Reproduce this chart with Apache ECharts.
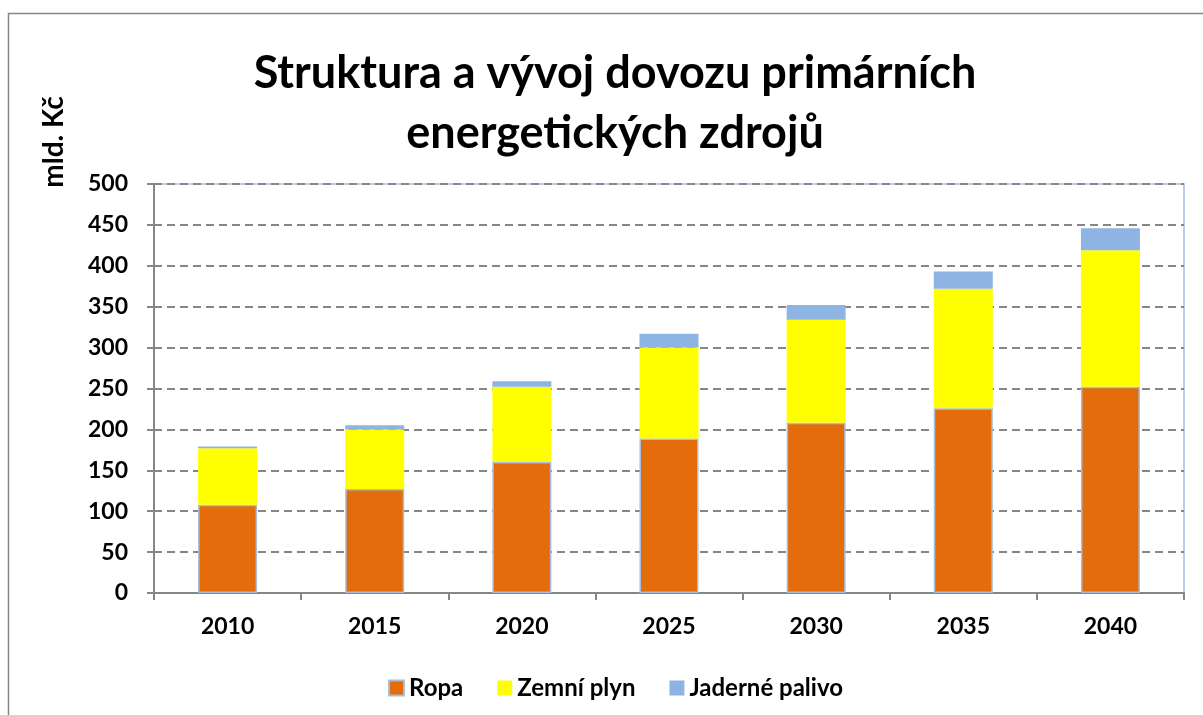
<!DOCTYPE html>
<html>
<head>
<meta charset="utf-8">
<script src="https://cdn.jsdelivr.net/npm/echarts@6/dist/echarts.min.js"></script>
<style>
html, body { margin: 0; padding: 0; background: #fff; }
#main { width: 1203px; height: 715px; }
</style>
</head>
<body>
<div id="main"></div>
<script>
var years = ['2010', '2015', '2020', '2025', '2030', '2035', '2040'];
var ropa = [108, 127, 160, 189, 208, 226, 252];
var plyn = [69, 73, 92, 111, 126, 146, 167];
var jaderne = [2, 5, 7, 17, 18, 21, 27];
var yTicks = [0, 50, 100, 150, 200, 250, 300, 350, 400, 450, 500];

var font = 'Lato, "Noto Sans", sans-serif';
var myChart = echarts.init(document.getElementById('main'));

var option = {
	backgroundColor: '#fff',
	animation: false,
	title: {
		text: 'Struktura a vývoj dovozu primárních\nenergetických zdrojů',
		left: 610,
		textAlign: 'center',
		top: 38,
		textStyle: {
			fontFamily: font,
			fontSize: 45,
			fontWeight: 'bold',
			color: '#000',
			lineHeight: 60
		}
	},
	graphic: [
		{
			type: 'rect',
			shape: { x: 8.5, y: 13.5, width: 1200, height: 710 },
			style: { fill: null, stroke: '#868686', lineWidth: 1.5 },
			silent: true
		},
		{
			type: 'text',
			x: 54,
			y: 142,
			rotation: Math.PI / 2,
			style: {
				text: 'mld. Kč',
				fontFamily: font,
				fontSize: 28,
				fontWeight: 'bold',
				fill: '#000',
				align: 'center',
				verticalAlign: 'middle'
			}
		}
	],
	legend: {
		top: 671,
		left: 383,
		icon: 'rect',
		itemWidth: 15,
		itemHeight: 15,
		itemGap: 34,
		textStyle: { fontFamily: font, fontSize: 24, fontWeight: 'bold', color: '#000' },
		data: ['Ropa', 'Zemní plyn', 'Jaderné palivo']
	},
	grid: {
		left: 154,
		right: 19,
		top: 184,
		bottom: 122,
		show: true,
		borderColor: '#a6c0e3',
		borderWidth: 1.5
	},
	xAxis: {
		type: 'category',
		data: years,
		axisLine: { lineStyle: { color: '#868686', width: 2 } },
		axisTick: { show: true, length: 7, lineStyle: { color: '#868686', width: 2 } },
		axisLabel: { margin: 22, fontFamily: font, fontSize: 23, fontWeight: 'bold', color: '#000' }
	},
	yAxis: {
		type: 'value',
		min: yTicks[0],
		max: yTicks[yTicks.length - 1],
		interval: 50,
		axisLine: { show: true, lineStyle: { color: '#868686', width: 2 } },
		axisTick: { show: true, length: 7, lineStyle: { color: '#868686', width: 2 } },
		axisLabel: { margin: 26, fontFamily: font, fontSize: 23, fontWeight: 'bold', color: '#000' },
		splitLine: { lineStyle: { color: '#868686', width: 2, type: [8, 5] } }
	},
	series: [
		{
			name: 'Ropa',
			type: 'bar',
			stack: 'total',
			barWidth: 59,
			data: ropa,
			itemStyle: { color: '#E46C0A', borderColor: '#a6bddb', borderWidth: 1.5 }
		},
		{
			name: 'Zemní plyn',
			type: 'bar',
			stack: 'total',
			barWidth: 59,
			data: plyn,
			itemStyle: { color: '#FFFF00' }
		},
		{
			name: 'Jaderné palivo',
			type: 'bar',
			stack: 'total',
			barWidth: 59,
			data: jaderne,
			itemStyle: { color: '#8EB4E3' }
		}
	]
};
myChart.setOption(option);
</script>
</body>
</html>
